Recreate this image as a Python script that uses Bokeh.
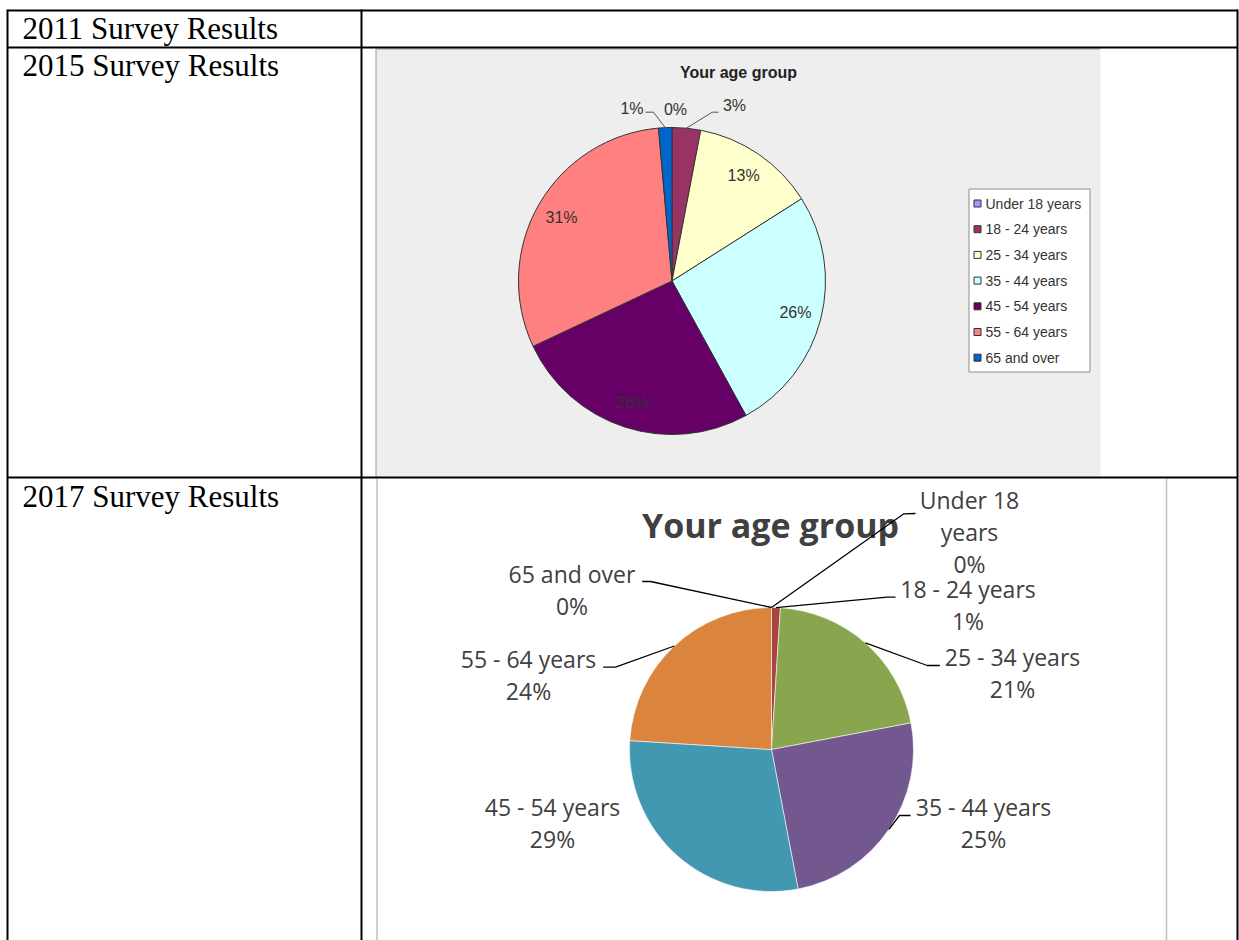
import math
from bokeh.plotting import figure
from bokeh.models import Range1d, ColumnDataSource
from bokeh.embed import file_html
from bokeh.resources import INLINE
from bokeh.core.properties import value

# ---------------- data ----------------
row_labels = ["2011 Survey Results", "2015 Survey Results", "2017 Survey Results"]
chart_title = "Your age group"
categories = ["Under 18 years", "18 - 24 years", "25 - 34 years", "35 - 44 years",
              "45 - 54 years", "55 - 64 years", "65 and over"]
values_2015 = [0.0, 3.0, 13.0, 26.0, 26.0, 30.6, 1.4]
values_2017 = [0.0, 1.0, 21.0, 25.0, 29.0, 24.0, 0.0]
colors_2015 = ["#9999FF", "#993366", "#FFFFCC", "#CCFFFF", "#660066", "#FF8080", "#0066CC"]
colors_2017 = ["#4A7EBB", "#A94442", "#89A64E", "#72588F", "#4398B1", "#DB843D", "#2C4D75"]
labels_2017 = ["Under 18\nyears", "18 - 24 years", "25 - 34 years", "35 - 44 years",
               "45 - 54 years", "55 - 64 years", "65 and over"]

# ---------------- figure ----------------
W, H = 1239, 940


def Y(py):
    return H - py


p = figure(width=W, height=H, x_range=Range1d(0, W), y_range=Range1d(0, H),
           output_backend="svg", toolbar_location=None, min_border=0)
p.axis.visible = False
p.grid.visible = False
p.outline_line_color = None
p.background_fill_color = "white"
p.border_fill_color = "white"

# ---------------- panels ----------------
p.quad(left=[375], right=[1100], top=[Y(48)], bottom=[Y(477)], fill_color="#EEEEEE", line_color=None)
p.line(x=[375.5, 375.5, 1100], y=[Y(477), Y(48.5), Y(48.5)], line_color="#A0A0A0", line_width=1)
p.line(x=[376.5, 376.5], y=[Y(478), Y(945)], line_color="#BFBFBF", line_width=1.5)
p.line(x=[1166, 1166], y=[Y(478), Y(945)], line_color="#BFBFBF", line_width=1.5)

# ---------------- table grid ----------------
tx0, tx1, tx2 = 7, 361, 1237
p.segment(x0=[tx0, tx0, tx0, tx0, tx1, tx2], y0=[Y(10), Y(47), Y(477), Y(9), Y(9), Y(9)],
          x1=[tx2, tx2, tx2, tx0, tx1, tx2], y1=[Y(10), Y(47), Y(477), Y(945), Y(945), Y(945)],
          line_color="black", line_width=2)

SERIF = 31
p.text(x=[22, 22, 22], y=[Y(b - 0.33 * SERIF) for b in (38, 75, 506)], text=row_labels,
       text_font=value("Liberation Serif"), text_font_size=f"{SERIF}px", text_color="black",
       text_align="left", text_baseline="middle")


def slices(vals, cols, cx, cy):
    tot = sum(vals)
    cum = 0.0
    rows = dict(x=[], y=[], s=[], e=[], c=[])
    mids = []
    for v, c in zip(vals, cols):
        a0 = math.pi / 2 - 2 * math.pi * cum / tot
        cum += v
        a1 = math.pi / 2 - 2 * math.pi * cum / tot
        mids.append((a0 + a1) / 2)
        if v > 0:
            rows["x"].append(cx); rows["y"].append(cy)
            rows["s"].append(a0); rows["e"].append(a1); rows["c"].append(c)
    return ColumnDataSource(rows), mids


# ---------------- 2015 pie ----------------
c15x, c15y, r15 = 671.5, Y(280.5), 153.5
src15, mids15 = slices(values_2015, colors_2015, c15x, c15y)
p.wedge(x="x", y="y", radius=r15, start_angle="s", end_angle="e", direction="clock",
        fill_color="c", line_color="#333333", line_width=1, source=src15)

p.text(x=[738], y=[Y(77.7 - 0.35 * 16)], text=[chart_title], text_font=value("Liberation Sans"),
       text_font_style="bold", text_font_size="16px", text_color="#222222",
       text_align="center", text_baseline="middle")

lab_font15 = dict(text_font=value("Liberation Sans"), text_font_size="16px", text_color="#333333")
in_x, in_y, in_t = [], [], []
for v, m in zip(values_2015, mids15):
    if v >= 5:
        in_x.append(c15x + 0.83 * r15 * math.cos(m))
        in_y.append(c15y + 0.83 * r15 * math.sin(m))
        in_t.append(f"{round(v)}%")
p.text(x=in_x, y=in_y, text=in_t, text_align="center", text_baseline="middle", **lab_font15)

outer15 = {0: (675, 115, []),
           1: (734, 111, [(718, 111.7), (711.7, 111.7)]),
           6: (631.5, 114, [(645, 111.7), (653, 111.7)])}
for i, (lx, ly, pts) in outer15.items():
    p.text(x=[lx], y=[Y(ly - 0.35 * 16)], text=[f"{round(values_2015[i])}%"], text_align="center",
           text_baseline="middle", **lab_font15)
    if pts:
        ex = c15x + r15 * math.cos(mids15[i])
        ey = c15y + r15 * math.sin(mids15[i])
        p.line(x=[q[0] for q in pts] + [ex], y=[Y(q[1]) for q in pts] + [ey],
               line_color="#555555", line_width=1)

# legend 2015
p.quad(left=[968.5], right=[1089.5], top=[Y(188.5)], bottom=[Y(371.5)], fill_color="white",
       line_color="#8C8C8C", line_width=1)
leg_y = [Y(203 + i * 25.7) for i in range(len(categories))]
p.scatter(x=[977] * len(categories), y=leg_y, marker="square", size=7, fill_color=colors_2015,
          line_color="#333333", line_width=1)
p.text(x=[985] * len(categories), y=leg_y, text=categories, text_font=value("Liberation Sans"),
       text_font_size="14px", text_color="#333333", text_align="left", text_baseline="middle")

# ---------------- 2017 pie ----------------
c17x, c17y, r17 = 771, Y(749), 142
src17, mids17 = slices(values_2017, colors_2017, c17x, c17y)
p.wedge(x="x", y="y", radius=r17, start_angle="s", end_angle="e", direction="clock",
        fill_color="c", line_color="white", line_alpha=0.7, line_width=0.8, source=src17)

p.text(x=[770], y=[Y(537 - 0.36 * 34)], text=[chart_title], text_font=value("Open Sans"),
       text_font_style="bold", text_font_size="34px", text_color="#404040",
       text_align="center", text_baseline="middle")

outer17 = {0: (969, 508, [(915, 513), (903.3, 513.3)]),
           1: (967.5, 597, [(895, 596.7), (886.7, 596.7)]),
           2: (1012, 665, [(939.3, 665), (926.7, 665)]),
           3: (983, 815, [(910, 815), (899, 815)]),
           4: (552, 815, []),
           5: (528, 666.7, [(602.7, 666.7), (615, 666.7)]),
           6: (571.5, 582, [(641.7, 581), (650, 581)])}
LAB = 23
tx, ty, tt = [], [], []
for i, (lx, ly, pts) in outer17.items():
    lines = labels_2017[i].split("\n") + [f"{round(values_2017[i])}%"]
    for k, s in enumerate(lines):
        tx.append(lx); ty.append(Y(ly + 32 * k - 0.36 * LAB)); tt.append(s)
    if pts:
        ex = c17x + r17 * math.cos(mids17[i])
        ey = c17y + r17 * math.sin(mids17[i])
        p.line(x=[q[0] for q in pts] + [ex], y=[Y(q[1]) for q in pts] + [ey],
               line_color="black", line_width=1.3)
p.text(x=tx, y=ty, text=tt, text_font=value("Open Sans"), text_font_size=f"{LAB}px",
       text_color="#404040", text_align="center", text_baseline="middle")

open("out.html", "w").write(file_html(p, INLINE))
